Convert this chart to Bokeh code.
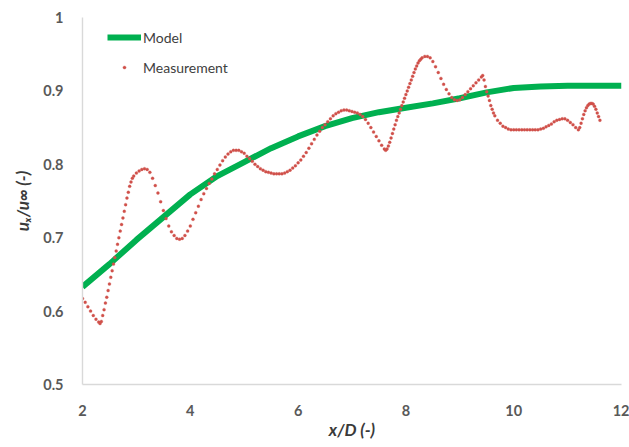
from bokeh.plotting import figure
from bokeh.models import Range1d, FixedTicker, Legend, LegendItem
from bokeh.embed import file_html
from bokeh.resources import INLINE

# ---- data ----
model_x = [2.0, 2.5, 3.0, 3.5, 4.0, 4.5, 5.0, 5.5, 6.0, 6.5, 7.0, 7.5, 8.0, 8.5,
           9.0, 9.5, 10.0, 10.5, 11.0, 11.5, 12.0]
model_y = [0.633, 0.664, 0.697, 0.728, 0.759, 0.784, 0.803, 0.822, 0.838, 0.852,
           0.863, 0.871, 0.877, 0.883, 0.890, 0.898, 0.904, 0.906, 0.907, 0.907, 0.907]

meas_x = [2.00, 2.05, 2.10, 2.15, 2.20, 2.25, 2.30, 2.325, 2.35, 2.375, 2.40, 2.425,
          2.45, 2.475, 2.50, 2.525, 2.55, 2.575, 2.60, 2.625, 2.65, 2.675, 2.70,
          2.725, 2.75, 2.775, 2.80, 2.825, 2.85, 2.875, 2.90, 2.925, 2.95, 3.00,
          3.05, 3.10, 3.15, 3.20, 3.25, 3.30, 3.35, 3.40, 3.45, 3.50, 3.55, 3.60,
          3.65, 3.70, 3.75, 3.80, 3.85, 3.90, 3.95, 4.00, 4.05, 4.10, 4.15, 4.20,
          4.25, 4.30, 4.35, 4.40, 4.45, 4.50, 4.55, 4.60, 4.65, 4.70, 4.75, 4.80,
          4.85, 4.90, 4.95, 5.00, 5.05, 5.10, 5.15, 5.20, 5.25, 5.30, 5.35, 5.40,
          5.45, 5.50, 5.55, 5.60, 5.65, 5.70, 5.75, 5.80, 5.85, 5.90, 5.95, 6.00,
          6.05, 6.10, 6.15, 6.20, 6.25, 6.30, 6.35, 6.40, 6.45, 6.50, 6.55, 6.60,
          6.65, 6.70, 6.75, 6.80, 6.85, 6.90, 6.95, 7.00, 7.05, 7.10, 7.15, 7.20,
          7.25, 7.30, 7.35, 7.40, 7.45, 7.50, 7.55, 7.60, 7.625, 7.65, 7.675, 7.70,
          7.725, 7.75, 7.775, 7.80, 7.825, 7.85, 7.875, 7.90, 7.925, 7.95, 7.975,
          8.00, 8.025, 8.05, 8.075, 8.10, 8.125, 8.15, 8.175, 8.20, 8.225, 8.25,
          8.275, 8.30, 8.35, 8.40, 8.45, 8.50, 8.55, 8.60, 8.65, 8.70, 8.75, 8.80,
          8.85, 8.90, 8.95, 9.00, 9.05, 9.10, 9.15, 9.20, 9.25, 9.30, 9.35, 9.40,
          9.425, 9.45, 9.475, 9.50, 9.525, 9.55, 9.575, 9.60, 9.625, 9.65, 9.70,
          9.75, 9.80, 9.85, 9.90, 9.95, 10.00, 10.05, 10.10, 10.15, 10.20, 10.25,
          10.30, 10.35, 10.40, 10.45, 10.50, 10.55, 10.60, 10.65, 10.70, 10.75,
          10.80, 10.85, 10.90, 10.95, 11.00, 11.05, 11.10, 11.15, 11.20, 11.225,
          11.25, 11.275, 11.30, 11.325, 11.35, 11.375, 11.40, 11.425, 11.45,
          11.475, 11.50, 11.525, 11.55, 11.575, 11.60]
meas_y = [0.617, 0.612, 0.606, 0.600, 0.594, 0.589, 0.585, 0.583, 0.586, 0.594, 0.602,
          0.611, 0.619, 0.628, 0.637, 0.646, 0.655, 0.664, 0.673, 0.682, 0.691, 0.700,
          0.709, 0.718, 0.727, 0.736, 0.745, 0.754, 0.762, 0.770, 0.776, 0.781, 0.784,
          0.788, 0.791, 0.793, 0.794, 0.793, 0.789, 0.781, 0.771, 0.761, 0.749, 0.737,
          0.726, 0.716, 0.708, 0.703, 0.699, 0.698, 0.699, 0.703, 0.709, 0.716, 0.725,
          0.734, 0.743, 0.752, 0.760, 0.767, 0.774, 0.780, 0.787, 0.793, 0.799, 0.805,
          0.810, 0.814, 0.817, 0.819, 0.819, 0.819, 0.817, 0.815, 0.811, 0.808, 0.804,
          0.800, 0.797, 0.794, 0.792, 0.790, 0.789, 0.788, 0.787, 0.787, 0.787, 0.787,
          0.788, 0.790, 0.792, 0.795, 0.798, 0.802, 0.806, 0.811, 0.816, 0.822, 0.828,
          0.834, 0.840, 0.845, 0.850, 0.854, 0.858, 0.862, 0.866, 0.869, 0.871, 0.873,
          0.874, 0.874, 0.873, 0.872, 0.871, 0.870, 0.868, 0.865, 0.861, 0.856, 0.850,
          0.844, 0.838, 0.832, 0.826, 0.821, 0.819, 0.821, 0.825, 0.830, 0.836, 0.842,
          0.848, 0.854, 0.860, 0.865, 0.870, 0.875, 0.880, 0.885, 0.890, 0.895, 0.900,
          0.905, 0.910, 0.915, 0.920, 0.925, 0.930, 0.934, 0.938, 0.941, 0.943, 0.945,
          0.947, 0.947, 0.945, 0.940, 0.933, 0.925, 0.917, 0.909, 0.902, 0.896, 0.891,
          0.888, 0.887, 0.888, 0.891, 0.895, 0.899, 0.903, 0.907, 0.911, 0.915, 0.919,
          0.921, 0.915, 0.906, 0.899, 0.893, 0.887, 0.880, 0.875, 0.870, 0.866, 0.860,
          0.856, 0.852, 0.850, 0.848, 0.847, 0.847, 0.847, 0.847, 0.847, 0.847, 0.847,
          0.847, 0.847, 0.847, 0.847, 0.848, 0.849, 0.851, 0.853, 0.855, 0.858, 0.860,
          0.861, 0.862, 0.862, 0.860, 0.857, 0.854, 0.850, 0.847, 0.850, 0.856, 0.862,
          0.868, 0.873, 0.877, 0.880, 0.882, 0.883, 0.883, 0.882, 0.879, 0.875, 0.870,
          0.865, 0.860]

x_ticks = [2, 4, 6, 8, 10, 12]
y_ticks = [0.5, 0.6, 0.7, 0.8, 0.9, 1.0]
y_tick_labels = {0.5: "0.5", 0.6: "0.6", 0.7: "0.7", 0.8: "0.8", 0.9: "0.9", 1.0: "1"}

# ---- figure ----
FONT = "Lato"
p = figure(width=629, height=447, output_backend="svg", toolbar_location=None,
           x_range=Range1d(2, 12), y_range=Range1d(0.5, 1.0),
           min_border_left=82, min_border_right=8, min_border_top=17,
           min_border_bottom=63)
p.outline_line_color = None
p.xgrid.visible = False
p.ygrid.visible = False
p.background_fill_color = "white"
p.border_fill_color = "white"

model_r = p.line(model_x, model_y, line_color="#00B050", line_width=6)
meas_r = p.scatter(meas_x, meas_y, size=3.0, fill_color="#D0504A",
                   line_color="#D0504A", line_width=0.3)

for ax in (p.xaxis[0], p.yaxis[0]):
    ax.axis_line_color = "#D9D9D9"
    ax.axis_line_width = 1.4
    ax.major_tick_line_color = None
    ax.minor_tick_line_color = None
    ax.major_label_text_font = FONT
    ax.major_label_text_font_style = "bold"
    ax.major_label_text_font_size = "14.5px"
    ax.major_label_text_color = "#595959"
    ax.axis_label_text_font = FONT
    ax.axis_label_text_font_style = "bold italic"
    ax.axis_label_text_font_size = "17px"
    ax.axis_label_text_color = "#3A3A3A"

p.xaxis[0].ticker = FixedTicker(ticks=x_ticks)
p.yaxis[0].ticker = FixedTicker(ticks=y_ticks)
p.yaxis[0].major_label_overrides = y_tick_labels
p.xaxis[0].major_label_standoff = 14
p.yaxis[0].major_label_standoff = 13
p.xaxis[0].axis_label = "x/D (-)"
p.yaxis[0].axis_label = "uₓ/u∞ (-)"
p.xaxis[0].axis_label_standoff = 0
p.yaxis[0].axis_label_standoff = 7

legend = Legend(items=[LegendItem(label="Model", renderers=[model_r]),
                       LegendItem(label="Measurement", renderers=[meas_r])],
                location=(25, 307), orientation="vertical",
                glyph_width=34, glyph_height=8, label_height=20,
                label_standoff=2, spacing=10, padding=0, margin=0,
                border_line_color=None, background_fill_alpha=0,
                label_text_font=FONT, label_text_font_size="14px",
                label_text_color="#404040")
p.add_layout(legend, "center")

open("out.html", "w").write(file_html(p, INLINE))
